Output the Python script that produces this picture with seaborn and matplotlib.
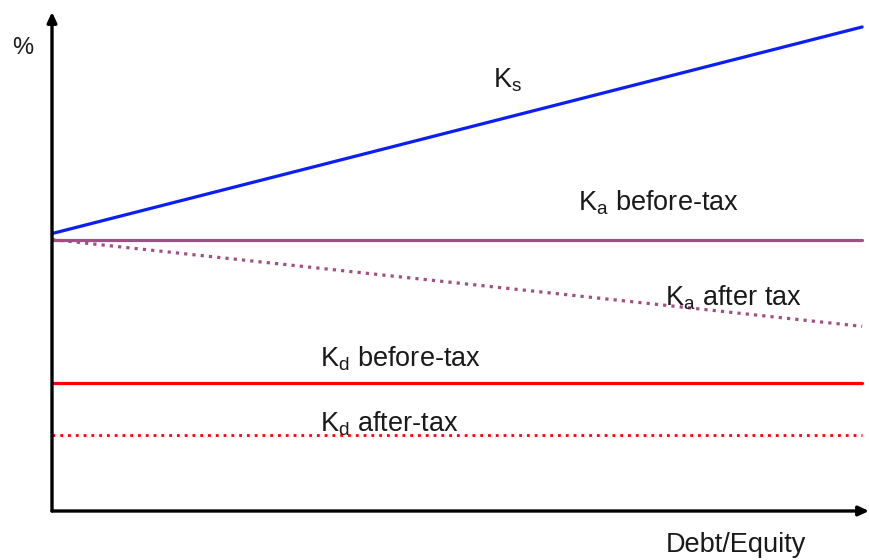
import matplotlib
matplotlib.use("Agg")
import matplotlib.pyplot as plt
import seaborn as sns


# Chart data (arbitrary % units)
DE_RATIO = [0.0, 2.0]
KS = [27.8, 48.5]
KA_BEFORE = [27.2, 27.2]
KA_AFTER = [27.2, 18.5]
KD_BEFORE = [12.8, 12.8]
KD_AFTER = [7.6, 7.6]

X_MAX = 2.017
Y_MAX = 50

BLUE = "#0a1ef5"
PURPLE = "#a04f86"
RED = "#ff0000"
TEXT = "#1a1a1a"


def draw_chart():
    sns.set_style("white")
    plt.rcParams["font.family"] = ["Liberation Sans", "DejaVu Sans"]
    plt.rcParams["mathtext.default"] = "regular"

    fig = plt.figure(figsize=(8.69, 5.60), dpi=100)
    ax = fig.add_axes([52 / 869, 49 / 560, 817 / 869, 499 / 560])

    sns.lineplot(x=DE_RATIO, y=KS, color=BLUE, linewidth=2.3, ax=ax)
    sns.lineplot(x=DE_RATIO, y=KA_BEFORE, color=PURPLE, linewidth=2.3, ax=ax)
    sns.lineplot(x=DE_RATIO, y=KA_AFTER, color=PURPLE, linewidth=2.3,
                 linestyle=(0, (1, 1.6)), ax=ax)
    sns.lineplot(x=DE_RATIO, y=KD_BEFORE, color=RED, linewidth=2.3, ax=ax)
    sns.lineplot(x=DE_RATIO, y=KD_AFTER, color=RED, linewidth=2.0,
                 linestyle=(0, (1, 1.8)), ax=ax)

    ax.set_xlim(0, X_MAX)
    ax.set_ylim(0, Y_MAX)
    ax.set_axis_off()

    # axes with arrow heads
    arrow = dict(arrowstyle="-|>,head_length=0.6,head_width=0.28",
                 color="black", lw=2.4, shrinkA=0, shrinkB=0)
    ax.annotate("", xy=(0, Y_MAX), xytext=(0, 0), arrowprops=arrow,
                annotation_clip=False)
    ax.annotate("", xy=(X_MAX, 0), xytext=(0, 0), arrowprops=arrow,
                annotation_clip=False)

    # labels
    fs = 19.5
    ax.text(-0.099, 46.4, "%", fontsize=17, color=TEXT, va="center", clip_on=False)
    ax.text(1.089, 43.2, "$K_s$", fontsize=fs, color=TEXT, va="center")
    ax.text(1.299, 30.9, "$K_a$ before-tax", fontsize=fs, color=TEXT, va="center")
    ax.text(1.514, 21.4, "$K_a$ after tax", fontsize=fs, color=TEXT, va="center")
    ax.text(0.662, 15.3, "$K_d$ before-tax", fontsize=fs, color=TEXT, va="center")
    ax.text(0.662, 8.7, "$K_d$ after-tax", fontsize=fs, color=TEXT, va="center")
    ax.text(1.516, -3.4, "Debt/Equity", fontsize=fs, color=TEXT, va="center",
            clip_on=False)

    fig.savefig("out.png", dpi=100)


if __name__ == "__main__":
    draw_chart()
